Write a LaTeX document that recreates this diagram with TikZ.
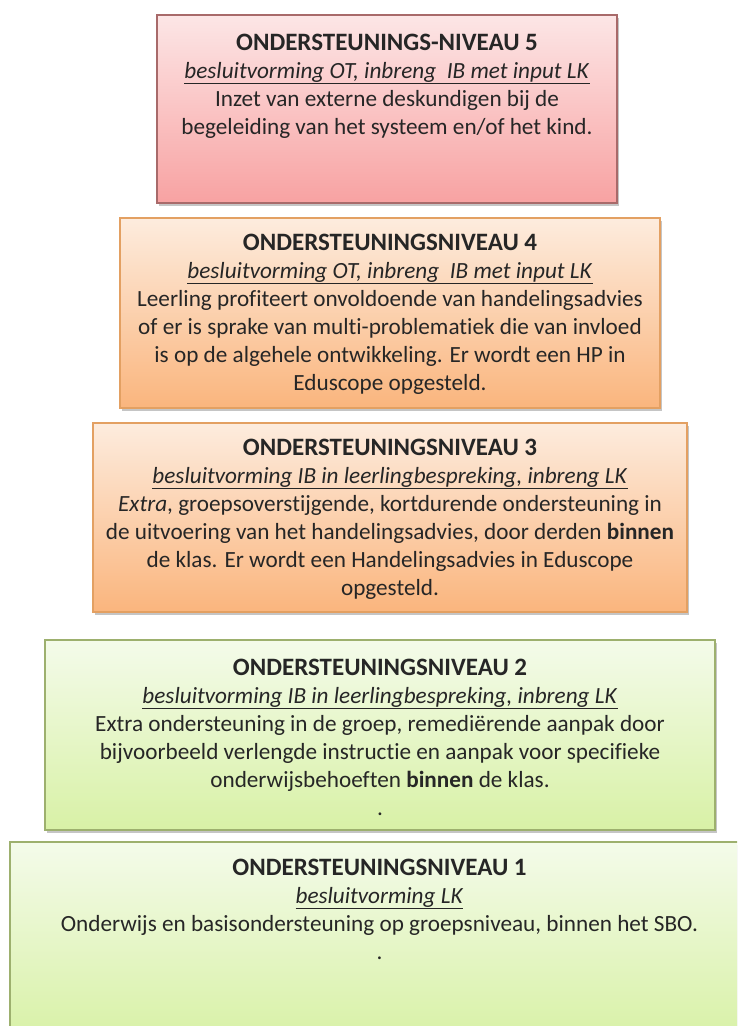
\documentclass[tikz,border=0pt]{standalone}
\usepackage{fontspec}
\setmainfont{Carlito}[Ligatures=NoCommon]
\usetikzlibrary{shadows}
\definecolor{txt}{HTML}{262626}
\definecolor{pinktop}{HTML}{FCE6E6}
\definecolor{pinkbot}{HTML}{F8A2A2}
\definecolor{pinkedge}{HTML}{A86A6A}
\definecolor{orgtop}{HTML}{FDECDE}
\definecolor{orgbot}{HTML}{FAB57D}
\definecolor{orgedge}{HTML}{E3A062}
\definecolor{grntop}{HTML}{F4FBEA}
\definecolor{grnbot}{HTML}{D8F1A6}
\definecolor{grnedge}{HTML}{9DB06E}
\tikzset{
  lvlbox/.style={draw, line width=1.1pt, inner sep=0pt, rectangle,
    drop shadow={opacity=0.45, shadow xshift=1.5pt, shadow yshift=-3pt}},
  pinkbox/.style={lvlbox, draw=pinkedge, top color=pinktop, bottom color=pinkbot},
  orgbox/.style={lvlbox, draw=orgedge, top color=orgtop, bottom color=orgbot},
  grnbox/.style={lvlbox, draw=grnedge, top color=grntop, bottom color=grnbot},
  lvltext/.style={anchor=north, align=center, inner sep=0pt, text=txt,
    font=\fontsize{23.2}{28}\selectfont}
}
\newcommand{\lvltitle}[1]{{\fontsize{25}{28}\selectfont\bfseries #1}}
\newcommand{\lvlsub}[1]{\underline{\textit{#1}}}
\begin{document}
\begin{tikzpicture}[x=1pt,y=-1pt]
\useasboundingbox (0,0) rectangle (737,1026);
\clip (0,0) rectangle (737,1026);
\fill[white] (0,0) rectangle (737,1026);

% boxes
\node[pinkbox, minimum width=460pt, minimum height=188pt] (b5) at (387,109) {};
\node[orgbox, minimum width=540pt, minimum height=190pt] (b4) at (390,313) {};
\node[orgbox, minimum width=594pt, minimum height=189pt] (b3) at (390,517.5) {};
\node[grnbox, minimum width=670pt, minimum height=190pt] (b2) at (380,735) {};
\node[grnbox, minimum width=737pt, minimum height=198pt] (b1) at (378.5,941) {};

% texts
\node[lvltext] (t5) at ([yshift=-19pt]b5.north) {%
\lvltitle{ONDERSTEUNINGS-NIVEAU 5}\\
\lvlsub{besluitvorming OT, inbreng\ \ IB met input LK}\\
Inzet van externe deskundigen bij de\\
begeleiding van het systeem en/of het kind.};

\node[lvltext] (t4) at ([yshift=-16pt]b4.north) {%
\lvltitle{ONDERSTEUNINGSNIVEAU 4}\\
\lvlsub{besluitvorming OT, inbreng\ \ IB met input LK}\\
Leerling profiteert onvoldoende van handelingsadvies\\
of er is sprake van multi-problematiek die van invloed\\
is op de algehele ontwikkeling. Er wordt een HP in\\
Eduscope opgesteld.};

\node[lvltext] (t3) at ([yshift=-16pt]b3.north) {%
\lvltitle{ONDERSTEUNINGSNIVEAU 3}\\
\lvlsub{besluitvorming IB in leerlingbespreking, inbreng LK}\\
\textit{Extra}, groepsoverstijgende, kortdurende ondersteuning in\\
de uitvoering van het handelingsadvies, door derden \textbf{binnen}\\
de klas. Er wordt een Handelingsadvies in Eduscope\\
opgesteld.};

\node[lvltext] (t2) at ([yshift=-19pt]b2.north) {%
\lvltitle{ONDERSTEUNINGSNIVEAU 2}\\
\lvlsub{besluitvorming IB in leerlingbespreking, inbreng LK}\\
Extra ondersteuning in de groep, remediërende aanpak door\\
bijvoorbeeld verlengde instructie en aanpak voor specifieke\\
onderwijsbehoeften \textbf{binnen} de klas.\\
.};

\node[lvltext] (t1) at ([xshift=1pt,yshift=-17pt]b1.north) {%
\lvltitle{ONDERSTEUNINGSNIVEAU 1}\\
\lvlsub{besluitvorming LK}\\
Onderwijs en basisondersteuning op groepsniveau, binnen het SBO.\\
.};
\end{tikzpicture}
\end{document}
